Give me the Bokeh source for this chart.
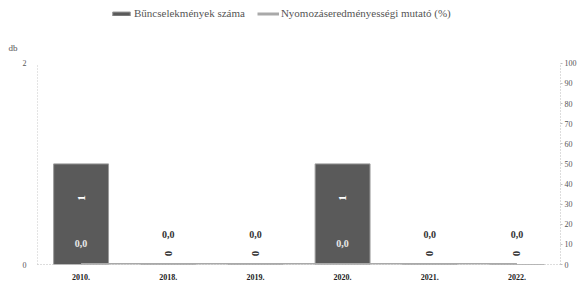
import math
from bokeh.plotting import figure
from bokeh.models import (Range1d, LinearAxis, FixedTicker, Legend, LegendItem,
                          ColumnDataSource, FactorRange)
from bokeh.core.properties import value
from bokeh.embed import file_html
from bokeh.resources import INLINE

years = ["2010.", "2018.", "2019.", "2020.", "2021.", "2022."]
crimes = [1, 0, 0, 1, 0, 0]
rate = [0.0, 0.0, 0.0, 0.0, 0.0, 0.0]
left_ticks = [0, 2]
right_ticks = [0, 10, 20, 30, 40, 50, 60, 70, 80, 90, 100]
left_unit = "db"

FONT = "Liberation Serif"
LEFT_MAX, RIGHT_MAX = 2, 100
HEAD = 1.312  # extra headroom above the axes for legend

src = ColumnDataSource(dict(
    year=years,
    crimes=crimes,
    rate=rate,
    clabel=[str(c) for c in crimes],
    clabel_y=[c * 0.55 + 0.11 for c in crimes],
    clabel_col=["#ffffff" if c > 0 else "#333333" for c in crimes],
    rlabel=[("%.1f" % r).replace(".", ",") for r in rate],
    rlabel_y=[0.21 if c > 0 else 0.30 for c in crimes],
    rlabel_col=["#e8e8e8" if c > 0 else "#333333" for c in crimes],
))

p = figure(x_range=FactorRange(*years, range_padding=0),
           y_range=Range1d(0, LEFT_MAX * HEAD),
           width=579, height=282, output_backend="svg", toolbar_location=None,
           min_border_left=37, min_border_top=0, min_border_right=0,
           min_border_bottom=17)
p.extra_y_ranges = {"pct": Range1d(0, RIGHT_MAX * HEAD)}
p.outline_line_color = None
p.xgrid.visible = False
p.ygrid.visible = False

bars = p.vbar(x="year", top="crimes", width=0.63, source=src,
              fill_color="#5a5a5a", line_color="#9c9c9c", line_width=1)
line = p.line(x="year", y="rate", y_range_name="pct", source=src,
              line_color="#a9a9a9", line_width=3)

p.text(x="year", y="clabel_y", text="clabel", source=src, angle=math.pi / 2,
       text_align="center", text_baseline="middle", text_color="clabel_col",
       text_font=value(FONT), text_font_size="11px", text_font_style="bold")
p.text(x="year", y="rlabel_y", text="rlabel", source=src,
       text_align="center", text_baseline="middle", text_color="rlabel_col",
       text_font=value(FONT), text_font_size="10px", text_font_style="bold")

# x axis
xa = p.xaxis[0]
xa.axis_line_color = "#bbbbbb"
xa.axis_line_dash = "1 2"
xa.major_tick_line_color = None
xa.minor_tick_line_color = None
xa.major_label_text_font = FONT
xa.major_label_text_font_size = "8px"
xa.major_label_text_font_style = "bold"
xa.major_label_text_color = "#222222"
xa.major_label_standoff = 3

# left axis
ya = p.yaxis[0]
ya.ticker = FixedTicker(ticks=left_ticks)
ya.bounds = (0, LEFT_MAX)
ya.axis_line_color = "#c8c8c8"
ya.axis_line_dash = "1 2"
ya.major_tick_line_color = None
ya.minor_tick_line_color = None
ya.major_label_text_font = FONT
ya.major_label_text_font_size = "8px"
ya.major_label_text_color = "#555555"
ya.major_label_standoff = 5

# unit label "db" as a second left axis
ua = LinearAxis(ticker=FixedTicker(ticks=[LEFT_MAX * 1.075]),
                major_label_overrides={LEFT_MAX * 1.075: left_unit})
ua.axis_line_color = None
ua.major_tick_line_color = None
ua.minor_tick_line_color = None
ua.major_label_text_font = FONT
ua.major_label_text_font_size = "9px"
ua.major_label_text_color = "#555555"
ua.major_label_standoff = -4
p.add_layout(ua, "left")

# right axis
ra = LinearAxis(y_range_name="pct", ticker=FixedTicker(ticks=right_ticks))
ra.bounds = (0, RIGHT_MAX)
ra.axis_line_color = "#bbbbbb"
ra.axis_line_dash = "1 2"
ra.major_tick_in = 0
ra.major_tick_out = 2
ra.major_tick_line_color = "#bbbbbb"
ra.minor_tick_line_color = None
ra.major_label_text_font = FONT
ra.major_label_text_font_size = "8px"
ra.major_label_text_color = "#555555"
ra.major_label_standoff = 2
p.add_layout(ra, "right")

legend = Legend(items=[
    LegendItem(label="Bűncselekmények száma", renderers=[bars]),
    LegendItem(label="Nyomozáseredményességi mutató (%)", renderers=[line]),
], orientation="horizontal", location=(71, 243))
legend.padding = 2
legend.margin = 0
legend.spacing = 12
legend.border_line_alpha = 0
legend.background_fill_alpha = 0
legend.glyph_width = 22
legend.glyph_height = 5
legend.label_standoff = 2
legend.label_text_font = FONT
legend.label_text_font_size = "11px"
legend.label_text_color = "#555555"
p.add_layout(legend, "center")

open("out.html", "w").write(file_html(p, INLINE))
